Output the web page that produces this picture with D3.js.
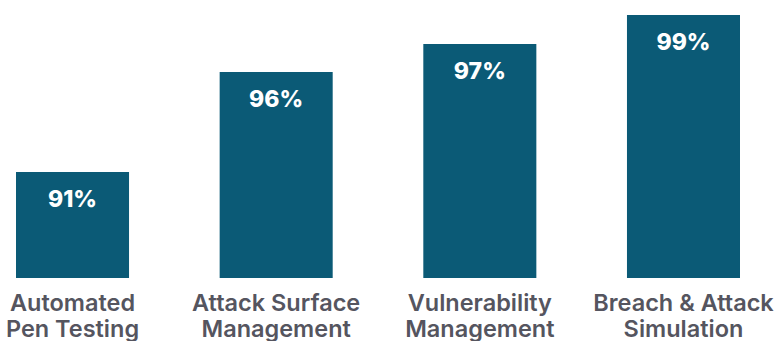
<!DOCTYPE html>
<html><head><meta charset="utf-8">
<script src="https://cdn.jsdelivr.net/npm/d3@7"></script>
<style>html,body{margin:0;padding:0;background:#fff;}svg{display:block;}</style>
</head><body>
<script>
const categories = [["Automated","Pen Testing"],["Attack Surface","Management"],["Vulnerability","Management"],["Breach & Attack","Simulation"]];
const values = [91.0, 96.0, 97.4, 98.85];
const valueLabels = ["91%","96%","97%","99%"];

const W = 776, H = 341;
const svg = d3.select("body").append("svg").attr("width", W).attr("height", H);
const x = d3.scaleBand().domain(d3.range(values.length)).range([16, 740]).paddingInner(0.445).paddingOuter(0);
const y = d3.scaleLinear().domain([85.7, 100]).range([278, -8]);

svg.selectAll("rect.bar").data(values).join("rect")
  .attr("class","bar")
  .attr("x",(d,i)=>x(i)).attr("width",x.bandwidth())
  .attr("y",d=>y(d)).attr("height",d=>y(85.7)-y(d))
  .attr("fill","#0b5a76");

svg.selectAll("text.val").data(values).join("text")
  .attr("class","val")
  .attr("x",(d,i)=>x(i)+x.bandwidth()/2)
  .attr("y",d=>y(d)+35)
  .attr("text-anchor","middle")
  .attr("font-family","Inter, sans-serif").attr("font-weight",800).attr("font-size",23)
  .attr("fill","#ffffff")
  .text((d,i)=>valueLabels[i]);

const cat = svg.selectAll("g.cat").data(categories).join("g").attr("class","cat");
cat.selectAll("text").data((d,i)=>d.map((t,j)=>({t,i,j}))).join("text")
  .attr("x",d=>x(d.i)+x.bandwidth()/2)
  .attr("y",d=>310.5+d.j*26)
  .attr("text-anchor","middle")
  .attr("font-family","Inter, sans-serif").attr("font-weight",600).attr("font-size",23.5)
  .attr("fill","#55555f")
  .text(d=>d.t);
</script>
</body></html>
